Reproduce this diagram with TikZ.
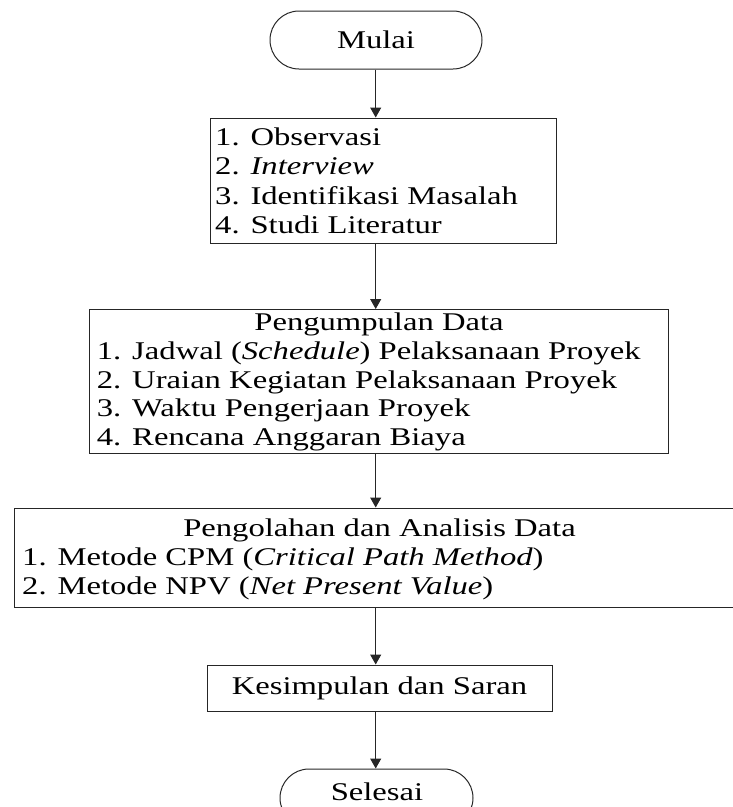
\documentclass[tikz,border=0pt]{standalone}
\usepackage{fontspec}
\setmainfont{Liberation Serif}[FakeStretch=1.28]
\usetikzlibrary{arrows.meta}
\begin{document}
\begin{tikzpicture}[x=1pt,y=-1pt,
  line/.style={draw=black!85,line width=1pt},
  term/.style={line,rectangle,rounded corners=29pt,minimum width=#1,minimum height=58pt,inner sep=0pt,font=\fontsize{25.5}{29.2}\selectfont},
  boxnode/.style={line,rectangle,inner sep=0pt},
  txt/.style={inner sep=0pt,font=\fontsize{25.5}{29.2}\selectfont},
  arr/.style={line,-{Triangle[length=10pt,width=11pt]}}]
\useasboundingbox (0,0) rectangle (733,807);
\clip (0,0) rectangle (733,807);
\coordinate (ax) at (375.7,0);
% nodes
\node[term=212pt] (start) at (376,40) {Mulai};
\node[boxnode,minimum width=346pt,minimum height=125pt] (b1) at (383,180.5) {};
\node[txt,anchor=base west] (t1) at (215,145.7) {\begin{tabular}[t]{@{}l@{}}1. Observasi\\2. \textit{Interview}\\3. Identifikasi Masalah\\4. Studi Literatur\end{tabular}};
\node[boxnode,minimum width=579pt,minimum height=143.5pt] (b2) at (378.5,381.25) {};
\node[txt,anchor=base] (h2) at (379,330.5) {Pengumpulan Data};
\node[txt,anchor=base west,font=\fontsize{25.5}{28.7}\selectfont] (t2) at (96.7,359.5) {\begin{tabular}[t]{@{}l@{}}1. Jadwal (\textit{Schedule}) Pelaksanaan Proyek\\2. Uraian Kegiatan Pelaksanaan Proyek\\3. Waktu Pengerjaan Proyek\\4. Rencana Anggaran Biaya\end{tabular}};
\node[boxnode,minimum width=731pt,minimum height=99pt] (b3) at (379.5,557.5) {};
\node[txt,anchor=base] (h3) at (379.5,536) {Pengolahan dan Analisis Data};
\node[txt,anchor=base west] (t3) at (22,565) {\begin{tabular}[t]{@{}l@{}}1. Metode CPM (\textit{Critical Path Method})\\2. Metode NPV (\textit{Net Present Value})\end{tabular}};
\node[boxnode,minimum width=345pt,minimum height=46pt] (b4) at (379.5,688) {};
\node[txt,anchor=base] (t4) at (379.5,694.5) {Kesimpulan dan Saran};
\node[term=193pt] (end) at (376.5,798) {};
\node[txt,anchor=base] (t5) at (377,800) {Selesai};
% connectors
\draw[arr] (start.south -| ax) -- (b1.north -| ax);
\draw[arr] (b1.south -| ax) -- (b2.north -| ax);
\draw[arr] (b2.south -| ax) -- (b3.north -| ax);
\draw[arr] (b3.south -| ax) -- (b4.north -| ax);
\draw[arr] (b4.south -| ax) -- (end.north -| ax);
\end{tikzpicture}
\end{document}
